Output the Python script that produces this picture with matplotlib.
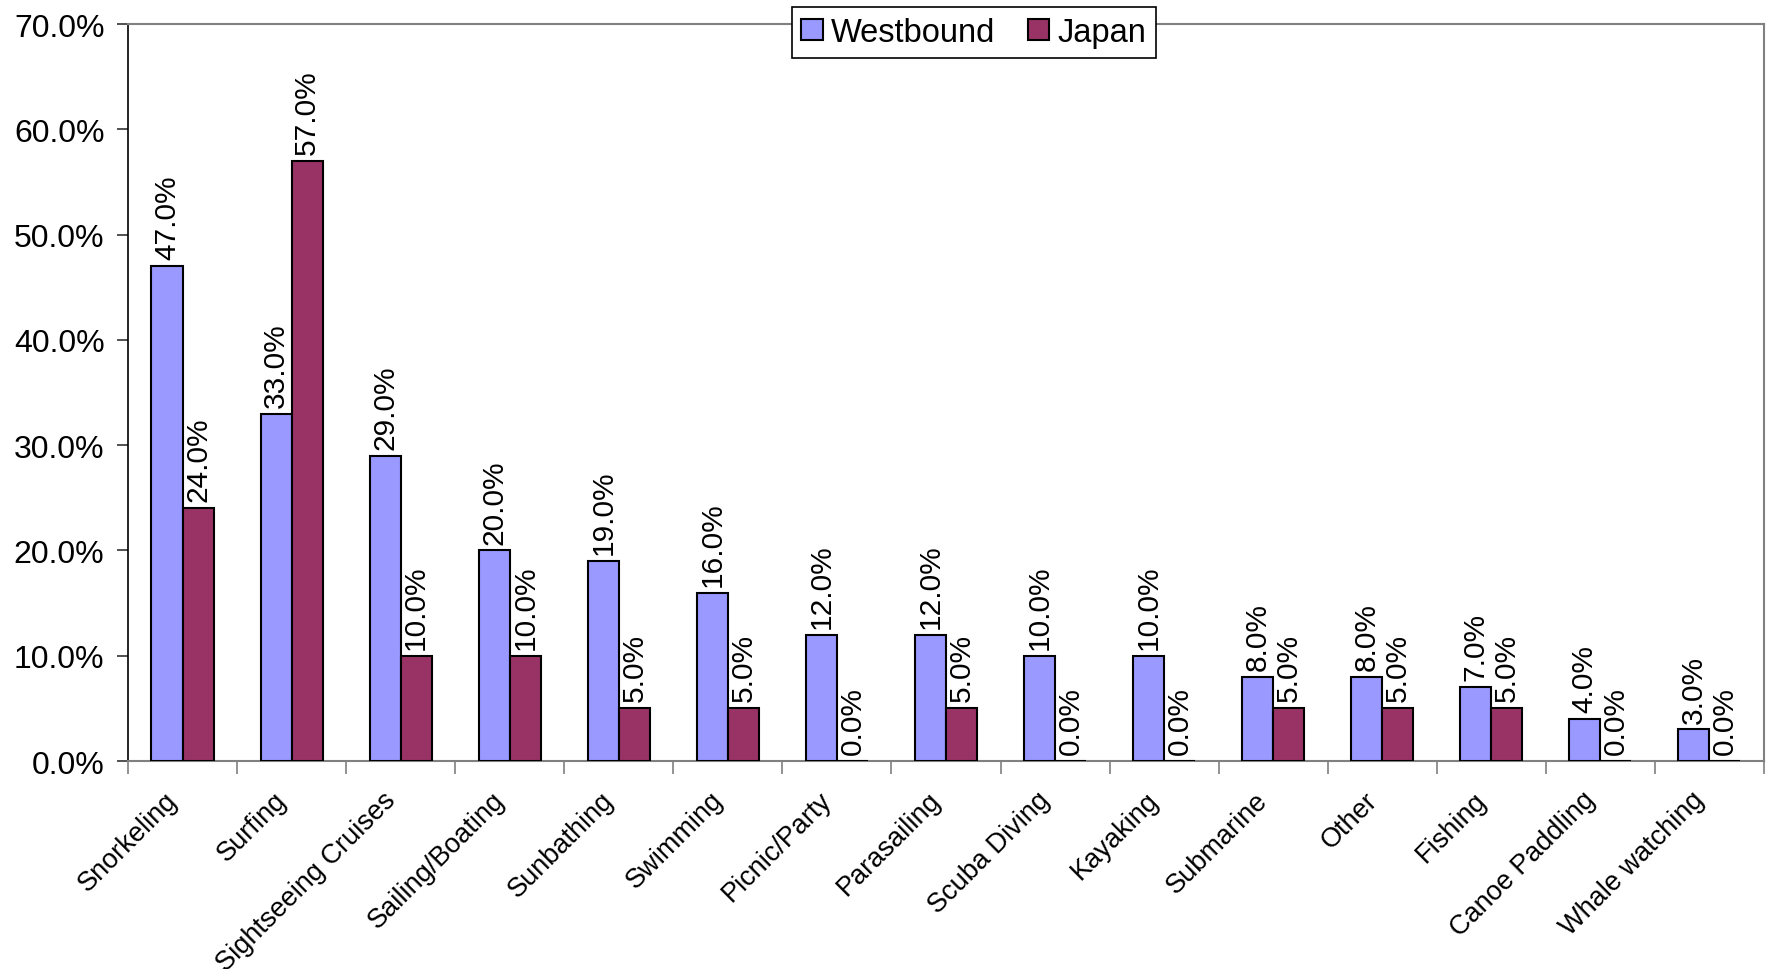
import numpy as np
import matplotlib
matplotlib.use("Agg")
import matplotlib.pyplot as plt
from matplotlib.ticker import FuncFormatter, FixedLocator
from matplotlib.transforms import ScaledTranslation

plt.rcParams["font.family"] = ["Liberation Sans", "DejaVu Sans"]

activities = ["Snorkeling", "Surfing", "Sightseeing Cruises", "Sailing/Boating",
              "Sunbathing", "Swimming", "Picnic/Party", "Parasailing",
              "Scuba Diving", "Kayaking", "Submarine", "Other", "Fishing",
              "Canoe Paddling", "Whale watching"]
westbound = [47.0, 33.0, 29.0, 20.0, 19.0, 16.0, 12.0, 12.0, 10.0, 10.0,
             8.0, 8.0, 7.0, 4.0, 3.0]
japan = [24.0, 57.0, 10.0, 10.0, 5.0, 5.0, 0.0, 5.0, 0.0, 0.0,
         5.0, 5.0, 5.0, 0.0, 0.0]

BLUE = "#9999FF"
PLUM = "#993366"

fig = plt.figure(figsize=(17.71, 9.70), dpi=100)
ax = fig.add_axes([0.0723, 0.2144, 0.9237, 0.7598])

x = np.arange(len(activities))
w = 0.285
b1 = ax.bar(x - w / 2, westbound, w, color=BLUE, edgecolor="black",
            linewidth=1.5, label="Westbound", zorder=3)
b2 = ax.bar(x + w / 2, japan, w, color=PLUM, edgecolor="black",
            linewidth=1.5, label="Japan", zorder=3)

for bars in (b1, b2):
    ax.bar_label(bars, labels=[f"{v:.1f}%" for v in bars.datavalues],
                 rotation=90, padding=5, fontsize=21.5)

ax.set_xlim(-0.5, len(activities) - 0.5)
ax.set_ylim(0, 70)
ax.set_yticks(np.arange(0, 71, 10))
ax.yaxis.set_major_formatter(FuncFormatter(lambda v, _: f"{v:.1f}%"))
ax.tick_params(axis="y", labelsize=23, length=8, width=1.2, pad=9,
               color="#333333")

ax.set_xticks(x)
ax.set_xticklabels(activities, rotation=45, ha="right", va="center",
                   rotation_mode="anchor", fontsize=19.5)
ax.tick_params(axis="x", which="major", length=0, pad=25)
ax.xaxis.set_minor_locator(FixedLocator(np.arange(-0.5, len(activities), 1)))
ax.tick_params(axis="x", which="minor", length=9, width=1.2, color="#808080")

# nudge the slanted category names a bit to the left of each group
shift = ScaledTranslation(-0.09, 0, fig.dpi_scale_trans)
for lbl in ax.get_xticklabels():
    lbl.set_transform(lbl.get_transform() + shift)

ax.spines["left"].set_color("black")
ax.spines["left"].set_linewidth(1.2)
for side in ("top", "right", "bottom"):
    ax.spines[side].set_color("#808080")
    ax.spines[side].set_linewidth(1.5)

leg = ax.legend(loc="center", bbox_to_anchor=(0.517, 0.9885), ncol=2,
                fontsize=23.5, frameon=True, fancybox=False, framealpha=1,
                edgecolor="black", handlelength=0.65, handleheight=0.65,
                handletextpad=0.25, columnspacing=1.0, borderpad=0.3,
                borderaxespad=0)
leg.get_frame().set_linewidth(1.2)
leg.set_zorder(5)

fig.savefig("out.png", dpi=100, facecolor="white")
